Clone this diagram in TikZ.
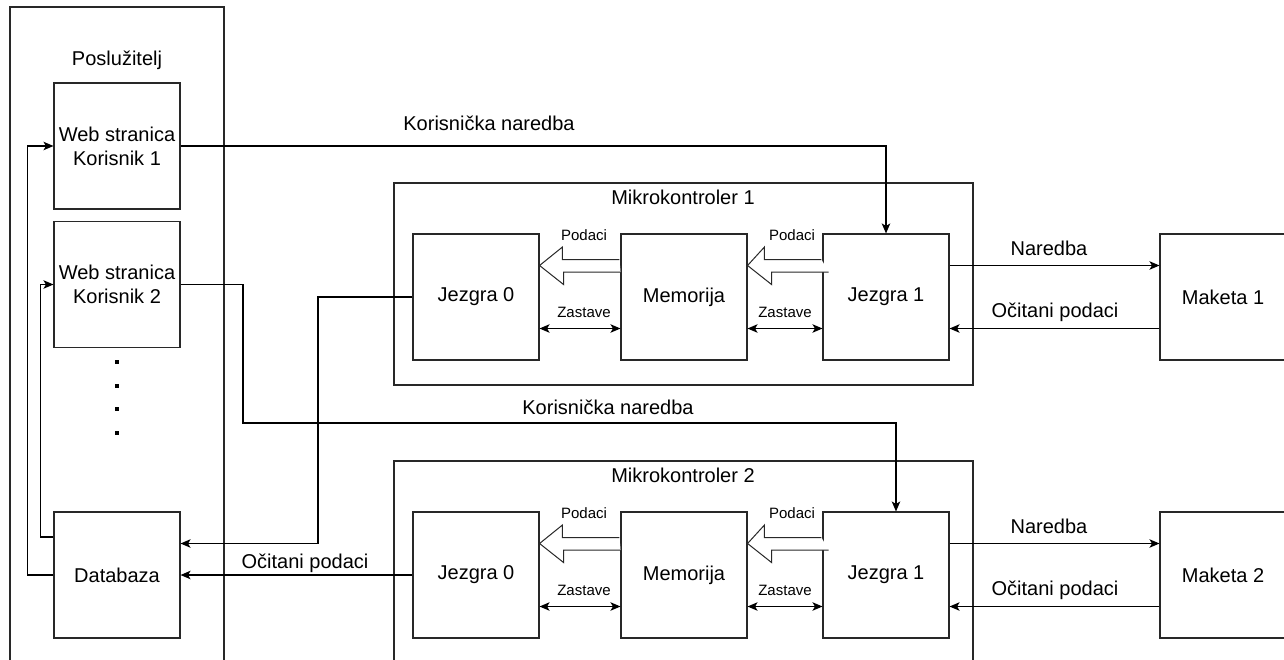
\documentclass[tikz,border=0pt]{standalone}
\usepackage{fontspec}
\setmainfont{Liberation Sans}
\usetikzlibrary{arrows.meta}
\newcommand{\bigLabelFont}{\fontsize{20}{24}\selectfont}
\newcommand{\smallLabelFont}{\fontsize{15}{18}\selectfont}
\definecolor{lineColor}{RGB}{40,40,40}
\tikzstyle{plan} = [x = 1pt, y = -1pt]
\tikzstyle{frameBox} = [draw=lineColor, line width=1.1pt, inner sep=0pt]
\tikzstyle{blockStyle} = [draw=lineColor, fill=white, line width=1.1pt, minimum width=126pt, minimum height=126pt, inner sep=0pt, align=center, font=\bigLabelFont]
\tikzstyle{labelText} = [inner sep=0pt, font=\bigLabelFont]
\tikzstyle{smallText} = [inner sep=0pt, font=\smallLabelFont]
\tikzstyle{link} = [draw=black, line width=1.1pt, -{Stealth[length=10pt, width=8.5pt, inset=2.5pt]}]
\tikzstyle{flagLink} = [draw=black, line width=1.1pt, {Stealth[length=10pt, width=8.5pt, inset=2.5pt]}-{Stealth[length=10pt, width=8.5pt, inset=2.5pt]}]
\tikzstyle{dataArrow} = [draw=lineColor, fill=white, line width=1pt, line join=miter]
\newcommand{\dataArrowBetween}[2]{
  \filldraw [dataArrow] ([xshift=-1pt, yshift=37.5pt]#1.west) -- ++(-57,0) -- ++(0,-12.5) -- ([yshift=31.5pt]#2.east)
    -- ++(24,19) -- ++(0,-12.5) -- ++(57,0);
}
\newcommand{\mikrokontroler}[2]{
  \node [frameBox, minimum width=579pt, minimum height=202pt] (mk#1) at (683.5, #2 + 101) {};
  \node [labelText] (mk#1Title) at (683, #2 + 14) {Mikrokontroler #1};
  \node [blockStyle] (jezgraNula#1) at (476, #2 + 114) {Jezgra 0};
  \node [blockStyle] (memorija#1) at (684, #2 + 114) {Memorija};
  \node [blockStyle] (jezgraJedan#1) at (886, #2 + 114) {Jezgra 1};
  \node [blockStyle] (maketa#1) at (1223, #2 + 114) {Maketa #1};
  \dataArrowBetween{memorija#1}{jezgraNula#1}
  \dataArrowBetween{jezgraJedan#1}{memorija#1}
  \node [smallText] (podaciNula#1) at (584, #2 + 52) {Podaci};
  \node [smallText] (podaciJedan#1) at (792, #2 + 52) {Podaci};
  \draw [flagLink] ([yshift=-31.5pt]jezgraNula#1.east) -- ([yshift=-31.5pt]memorija#1.west);
  \draw [flagLink] ([yshift=-31.5pt]memorija#1.east) -- ([yshift=-31.5pt]jezgraJedan#1.west);
  \node [smallText] (zastaveNula#1) at (584, #2 + 129) {Zastave};
  \node [smallText] (zastaveJedan#1) at (785, #2 + 129) {Zastave};
  \draw [link] ([yshift=31.5pt]jezgraJedan#1.east) -- ([yshift=31.5pt]maketa#1.west);
  \draw [link] ([yshift=-31.5pt]maketa#1.west) -- ([yshift=-31.5pt]jezgraJedan#1.east);
  \node [labelText] (naredba#1) at (1049, #2 + 65) {Naredba};
  \node [labelText] (ocitano#1) at (1055, #2 + 129) {Očitani podaci};
}

\begin{document}
\begin{tikzpicture}[plan]
      \useasboundingbox (0,0) rectangle (1284,659);
      \clip (0,0) rectangle (1284,659);

      \draw [frameBox] (10,7) rectangle (224,690);
      \node [labelText] (posluzitelj) at (117, 60) {Poslužitelj};
      \node [blockStyle] (korisnik1) at (117, 146) {Web stranica\\Korisnik 1};
      \node [blockStyle] (korisnik2) at (117, 284.5) {Web stranica\\Korisnik 2};
      \node [blockStyle] (databaza) at (117, 575) {Databaza};
      \foreach \dotY in {362,386,409,433} {
        \fill [black] (115.3, \dotY - 1.7) rectangle +(3.4, 3.4);
      }

      \mikrokontroler{1}{183}
      \mikrokontroler{2}{461}

      \coordinate (bendKorisnik2) at (243, 423);
      \coordinate (bendJezgra) at (318, 543.5);
      \draw [link] (korisnik1.east) -| (jezgraJedan1.north);
      \node [labelText] (naredbaKorisnik1) at (489, 123) {Korisnička naredba};
      \draw [link] (korisnik2.east) -| (bendKorisnik2) -| ([xshift=10pt]jezgraJedan2.north);
      \node [labelText] (naredbaKorisnik2) at (608, 407) {Korisnička naredba};
      \draw [link] (jezgraNula1.west) -| (bendJezgra) -- ([yshift=31.5pt]databaza.east);
      \draw [link] (jezgraNula2.west) -- (databaza.east);
      \node [labelText] (ocitanoBaza) at (305, 563) {Očitani podaci};
      \draw [link] (databaza.west) -- ++(-26,0) |- (korisnik1.west);
      \draw [link] ([yshift=38pt]databaza.west) -- ++(-13,0) |- (korisnik2.west);
    \end{tikzpicture}
\end{document}
